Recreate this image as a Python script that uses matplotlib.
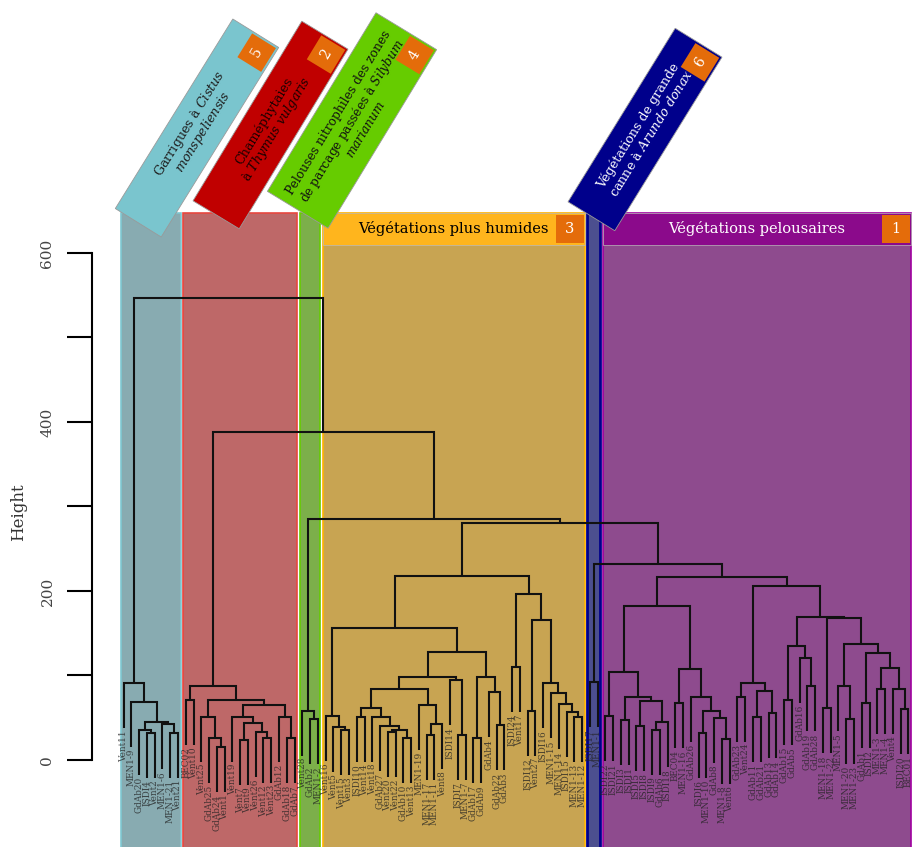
import numpy as np
import matplotlib
matplotlib.use("Agg")
import matplotlib.pyplot as plt
from matplotlib.patches import Rectangle, Polygon
from matplotlib.collections import LineCollection

plt.rcParams["font.family"] = ["DejaVu Serif"]
plt.rcParams["mathtext.fontset"] = "dejavuserif"

# ------------------------------------------------------------------
# sous-arbres : (gauche, droite, hauteur) ; les feuilles sont les relevés
# ------------------------------------------------------------------
clus5 = ("Vent11", ("MEN1-9", (("GdAb20", ("ISDI4", "Vent2", 32), 36),
                               ("MEN1-6", ("MEN1-21", "Vent21", 32), 42), 45), 69), 91)

clus2 = (("BEC02", "Vent10", 71),
         (("Vent25", ("GdAb25", ("GdAb24", "Vent1", 15), 26), 51),
          (("Vent19", (("Vent7", "Vent9", 24), ("Vent26", ("Vent12", "Vent23", 26), 33), 44), 51),
           ("GdAb12", ("GdAb18", "GdAb7", 26), 51), 65), 71), 88)

clus4 = ("Vent28", ("GdAb2", "MEN1-2", 48), 58)

c3_a = ("Vent16", ("Vent5", ("Vent15", "Vent3", 35), 39), 52)
c3_b = (("ISDI10", "Vent14", 51),
        ("Vent18", ("GdAb27", (("Vent20", "Vent22", 33), ("GdAb10", "Vent13", 26), 36), 40), 51), 62)
c3_c = ("MEN1-19", (("MEN1-17", "MEN1-11", 30), "Vent8", 42), 65)
c3_d = ("ISDI14", ("ISDI7", "MEN1-7", 30), 95)
c3_e = (("GdAb17", "GdAb9", 26), ("GdAb4", ("GdAb22", "GdAb3", 41), 80), 98)
c3_f = ("ISDI16", ("MEN1-15", ("MEN1-14", ("ISDI15", ("MEN1-13", "MEN1-12", 51), 57), 66), 79), 91)
clus3 = ((c3_a, (((c3_b, c3_c, 84), c3_d, 98), c3_e, 128), 156),
         (("ISDI24", "Vent17", 110), (("ISDI12", "Vent27", 58), c3_f, 166), 196), 218)

clus6 = ("ISDI17", "MEN1-1", 92)

c1_a = (("ISDI22", "ISDI21", 52),
        (("ISDI3", "ISDI1", 47), (("ISDI5", "ISDI8", 40), (("ISDI9", "GdAb6", 36), "ISDI18", 45), 70), 75), 104)
c1_b = (("BEC04", "MEN1-16", 67),
        ("GdAb26", (("ISDI6", "MEN1-10", 32), ("GdAb8", ("MEN1-8", "Vent6", 25), 50), 58), 75), 108)
c1_c = (("GdAb23", "Vent24", 75), (("GdAb11", "GdAb21", 51), ("GdAb13", "GdAb14", 55), 82), 91)
c1_d = (("GdAb15", "GdAb5", 71), ("GdAb16", ("GdAb19", "GdAb28", 87), 121), 135)
c1_e = (("MEN1-5", ("MEN1-20", "MEN1-23", 49), 87),
        (("GdAb1", "ISDI2", 67), (("MEN1-3", "MEN1-4", 84), ("Vent4", ("ISDI20", "BEC01", 60), 84), 109), 127), 137)
clus1 = ((c1_a, c1_b, 182), (c1_c, (c1_d, (("MEN1-18", "MEN1-22", 61), c1_e, 168), 169), 206), 217)

# fusions entre groupes
h_6_1, h_3, h_4, h_2, h_root = 232, 280, 285, 388, 547

group_ids = ["5", "2", "4", "3", "6", "1"]
group_trees = [clus5, clus2, clus4, clus3, clus6, clus1]

box_lines = {
    "5": ["Garrigues à $\\mathit{Cistus}$", "$\\mathit{monspeliensis}$"],
    "2": ["Chaméphytaies", "à $\\mathit{Thymus\\ vulgaris}$"],
    "4": ["Pelouses nitrophiles des zones", "de parcage passées à $\\mathit{Silybum}$",
          "$\\mathit{marianum}$"],
    "6": ["Végétations de grande", "canne à $\\mathit{Arundo\\ donax}$"],
}
bar_text = {"3": "Végétations plus humides", "1": "Végétations pelousaires"}

# ------------------------------------------------------------------
# styles
# ------------------------------------------------------------------
fill_col = {"5": "#88abb1", "2": "#be6868", "4": "#7caf4a", "3": "#c8a452", "6": "#4c4f8f", "1": "#8e4b8e"}
edge_col = {"5": "#7ec8d2", "2": "#e8473f", "4": "#66cc00", "3": "#ffb300", "6": "#00008b", "1": "#a000a0"}
edge_lw = {"5": 1.2, "2": 1.2, "4": 1.2, "3": 1.2, "6": 2.0, "1": 1.2}
box_col = {"5": "#7ac5ce", "2": "#c00000", "4": "#66cc00", "6": "#00008b"}
box_txt = {"5": "#1e1e1e", "2": "#1a0000", "4": "#111111", "6": "white"}
bar_col = {"3": "#ffb51d", "1": "#8b0a8b"}
bar_txt = {"3": "black", "1": "white"}
orange = "#e46c0a"

# boîtes inclinées : centre (px), longueur, largeur, angle
box_geom = {
    "5": (197.0, 128.0, 223, 54, 58.2),
    "2": (270.5, 125.0, 210, 54, 58.8),
    "4": (352.0, 120.5, 209, 71, 58.7),
    "6": (645.0, 129.5, 204, 55, 58.3),
}

fig = plt.figure(figsize=(9.13, 8.47), dpi=100)
ax = fig.add_axes([0, 0, 1, 1])
ax.set_xlim(-14.91, 102.59)
ax.set_ylim(-103.0, 899.4)

tree = (clus5, (clus2, (clus4, (clus3, (clus6, clus1, h_6_1), h_3), h_4), h_2), h_root)


def all_heights(node):
    if isinstance(node, str):
        return []
    return all_heights(node[0]) + all_heights(node[1]) + [node[2]]


hs = all_heights(tree)
hang = 0.1 * (max(hs) - min(hs))

paths = []
leaves = []
leaf_ends = []


def walk(node):
    if isinstance(node, str):
        leaves.append(node)
        return len(leaves), None
    xl, hl = walk(node[0])
    xr, hr = walk(node[1])
    h = node[2]
    bl = h - hang if hl is None else hl
    br = h - hang if hr is None else hr
    if hl is None:
        leaf_ends.append((xl, bl, leaves[xl - 1]))
    if hr is None:
        leaf_ends.append((xr, br, leaves[xr - 1]))
    paths.append([(xl, bl), (xl, h), (xr, h), (xr, br)])
    return (xl + xr) / 2, h


walk(tree)

ax.add_collection(LineCollection(paths, colors="#111111", linewidths=1.5, zorder=3,
                                 joinstyle="miter", capstyle="butt"))
for x, b, lab in leaf_ends:
    ax.text(x, b - 2.5, lab, rotation=90, ha="center", va="top", fontsize=6.4,
            color="#222222", alpha=0.78, zorder=4)

# rectangles des groupes
top_h = 647.3
bar_lo = 609.5
start = 0
ranges = {}
for gid, t in zip(group_ids, group_trees):
    n = len(all_heights(t)) + 1
    lo, hi = start + 1 - 0.34, start + n + 0.33
    ranges[gid] = (lo, hi)
    start += n
    ax.add_patch(Rectangle((lo, -120), hi - lo, top_h + 120, fc=fill_col[gid],
                           ec=edge_col[gid], lw=edge_lw[gid], zorder=1))

# bandeaux horizontaux (groupes 3 et 1)
for gid in ["3", "1"]:
    lo, hi = ranges[gid]
    ax.add_patch(Rectangle((lo, bar_lo), hi - lo, top_h - bar_lo, fc=bar_col[gid],
                           ec="#bbbbbb", lw=0.5, zorder=5))
    ob = 3.6
    ox = min(hi, 102.65) - ob - 0.1
    ax.add_patch(Rectangle((ox, bar_lo + 2.5), ob, top_h - bar_lo - 5, fc=orange, ec="none", zorder=6))
    ax.text(ox + ob / 2, (bar_lo + top_h) / 2, gid, ha="center", va="center", fontsize=10.5,
            color="white", zorder=7)
    ax.text((lo + min(hi, 102.65)) / 2, (bar_lo + top_h) / 2, bar_text[gid], ha="center",
            va="center", fontsize=10.5, color=bar_txt[gid], zorder=7)

# axe des hauteurs
for s in ["top", "right", "bottom"]:
    ax.spines[s].set_visible(False)
ax.spines["left"].set_position(("data", -3.07))
ax.spines["left"].set_bounds(0, 600)
ax.spines["left"].set_linewidth(1.5)
ax.set_xticks([])
ax.set_yticks(range(0, 700, 100))
ax.set_yticklabels(["0", "", "200", "", "400", "", "600"], rotation=90, va="center",
                   fontsize=11, color="#444444")
ax.tick_params(axis="y", length=18, width=1.5, pad=9)
ax.patch.set_visible(False)

# calque en pixels pour les étiquettes inclinées
ax2 = fig.add_axes([0, 0, 1, 1])
ax2.set_xlim(0, 913)
ax2.set_ylim(847, 0)
ax2.axis("off")
ax2.text(19, 512, "Height", rotation=90, ha="center", va="center", fontsize=12, color="#333333")

for gid, (cx, cy, L, W, ang) in box_geom.items():
    a = np.radians(ang)
    dl = np.array([np.cos(a), -np.sin(a)])
    dw = np.array([np.sin(a), np.cos(a)])
    c = np.array([cx, cy])
    pts = [c + sl * L / 2 * dl + sw * W / 2 * dw for sl, sw in ((-1, -1), (1, -1), (1, 1), (-1, 1))]
    ax2.add_patch(Polygon(pts, closed=True, fc=box_col[gid], ec="#9a9a9a", lw=0.6))
    s, m = 28, 2
    oc = c + (L / 2 - m - s / 2) * dl + (W / 2 - m - s / 2) * dw
    sq = [oc + sl * s / 2 * dl + sw * s / 2 * dw for sl, sw in ((-1, -1), (1, -1), (1, 1), (-1, 1))]
    ax2.add_patch(Polygon(sq, closed=True, fc=orange, ec="none"))
    ax2.text(oc[0], oc[1], gid, rotation=ang, rotation_mode="anchor", ha="center", va="center",
             fontsize=10, color="white")
    lines = box_lines[gid]
    gap = 16 if len(lines) > 2 else 15.5
    fs = 8.8 if len(lines) > 2 else 9.2
    for i, t in enumerate(lines):
        p = c + (i - (len(lines) - 1) / 2) * gap * dw
        ax2.text(p[0], p[1], t, rotation=ang, rotation_mode="anchor", ha="center", va="center",
                 fontsize=fs, color=box_txt[gid])

fig.savefig("out.png", dpi=100)
